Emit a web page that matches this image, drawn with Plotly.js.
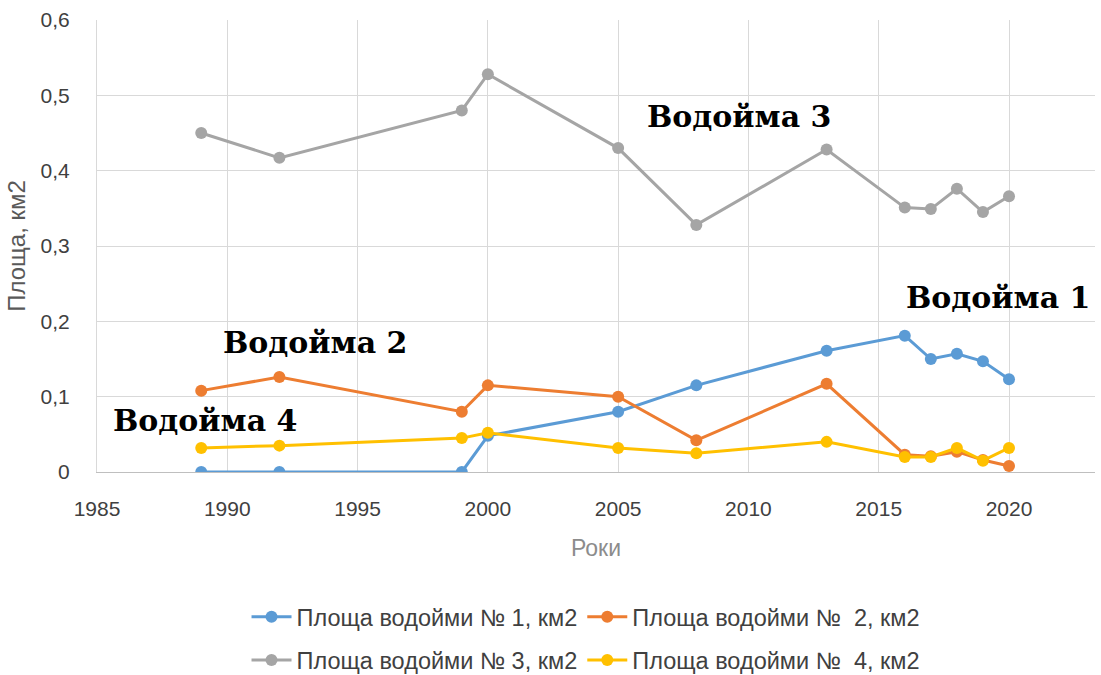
<!DOCTYPE html>
<html>
<head>
<meta charset="utf-8">
<script src="https://cdn.plot.ly/plotly-3.0.1.min.js"></script>
<style>html,body{margin:0;padding:0;background:#fff}#chart{width:1101px;height:675px}</style>
</head>
<body>
<div id="chart"></div>
<script>
const years = [1989, 1992, 1999, 2000, 2005, 2008, 2013, 2016, 2017, 2018, 2019, 2020];
const pond1 = [0, 0, 0, 0.048, 0.080, 0.115, 0.161, 0.181, 0.150, 0.157, 0.147, 0.123];
const pond2 = [0.108, 0.126, 0.080, 0.115, 0.100, 0.042, 0.117, 0.023, 0.021, 0.027, 0.016, 0.008];
const pond3 = [0.450, 0.417, 0.480, 0.528, 0.430, 0.328, 0.428, 0.351, 0.349, 0.376, 0.345, 0.366];
const pond4 = [0.032, 0.035, 0.045, 0.052, 0.032, 0.025, 0.040, 0.020, 0.020, 0.032, 0.015, 0.032];
const seriesNames = ["Площа водойми № 1, км2", "Площа водойми №  2, км2", "Площа водойми № 3, км2", "Площа водойми №  4, км2"];
const labels = ["Водойма 3", "Водойма 1", "Водойма 2", "Водойма 4"];
const labelX = [2009.65, 2019.57, 1993.36, 1989.14];
const labelY = [0.472, 0.231, 0.172, 0.069];

const colors = ["#5B9BD5", "#ED7D31", "#A5A5A5", "#FFC000"];
const legendIds = ["legend", "legend", "legend2", "legend2"];
const data = [pond1, pond2, pond3, pond4];
const traces = data.map((d, i) => ({
  x: years, y: d, type: "scatter", mode: "lines+markers",
  name: seriesNames[i],
  line: {color: colors[i], width: 3},
  marker: {color: colors[i], size: 12},
  legend: legendIds[i]
}));

const sans = "Liberation Sans, Arial, sans-serif";
const legendCommon = {
  orientation: "h", x: 0.49, xanchor: "center", yanchor: "middle", yref: "container",
  font: {family: sans, size: 23.5, color: "#404040"},
  bgcolor: "rgba(0,0,0,0)", itemwidth: 40
};

const layout = {
  width: 1101, height: 675,
  margin: {l: 97, r: 6, t: 20, b: 203, autoexpand: false},
  paper_bgcolor: "#fff", plot_bgcolor: "#fff",
  separators: ", ",
  showlegend: true,
  legend: Object.assign({}, legendCommon, {y: 0.086}),
  legend2: Object.assign({}, legendCommon, {y: 0.022}),
  xaxis: {
    range: [1985, 2023.3], dtick: 5, tick0: 1985, automargin: false,
    showgrid: true, gridcolor: "#d9d9d9", gridwidth: 1,
    zeroline: false, showline: true, linecolor: "#bfbfbf",
    ticks: "", ticklabelstandoff: 18,
    tickfont: {family: sans, size: 21, color: "#404040"},
    title: {text: "Роки", font: {family: sans, size: 23, color: "#8c8c8c"}, standoff: 20}
  },
  yaxis: {
    range: [0, 0.6], dtick: 0.1, automargin: false,
    showgrid: true, gridcolor: "#d9d9d9", gridwidth: 1,
    zeroline: false, showline: true, linecolor: "#d9d9d9",
    ticks: "", ticklabelstandoff: 22,
    tickfont: {family: sans, size: 21, color: "#404040"},
    title: {text: "Площа, км2", font: {family: sans, size: 24, color: "#595959"}, standoff: 8}
  },
  annotations: labels.map((t, i) => ({
    x: labelX[i], y: labelY[i], xref: "x", yref: "y", text: "<b>" + t + "</b>",
    showarrow: false, font: {family: "DejaVu Serif, Liberation Serif, serif", size: 30, color: "#000"}
  }))
};

Plotly.newPlot("chart", traces, layout, {displayModeBar: false, staticPlot: true});
</script>
</body>
</html>
